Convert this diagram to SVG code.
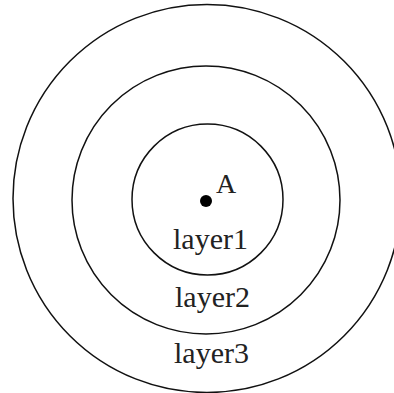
<svg xmlns="http://www.w3.org/2000/svg" width="394" height="393" viewBox="0 0 394 393">
<style>
.ring{fill:none;stroke:#111;stroke-width:1.5}
.lbl{font-family:"Liberation Serif","Times New Roman",serif;font-size:30px;fill:#222;text-anchor:middle}
</style>
<rect width="394" height="393" fill="#fff"/>
<g id="layer3"><circle class="ring" cx="207" cy="198.5" r="194"/><text class="lbl" x="211.5" y="363">layer3</text></g>
<g id="layer2"><circle class="ring" cx="206" cy="200" r="134"/><text class="lbl" x="212.5" y="306.5">layer2</text></g>
<g id="layer1"><circle class="ring" cx="207.5" cy="199.5" r="75.5"/><text class="lbl" x="210.5" y="249">layer1</text></g>
<g id="A"><circle cx="206" cy="201" r="6" fill="#000"/><text class="lbl" x="216" y="193" style="text-anchor:start;font-size:28px">A</text></g>
<g id="connectors"/>
</svg>
